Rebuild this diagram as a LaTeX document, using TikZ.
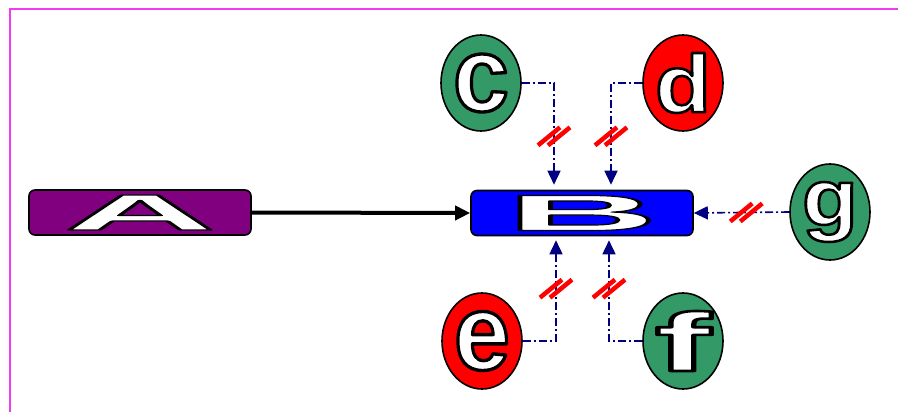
\documentclass[tikz,border=0pt]{standalone}
\usepackage{fontspec}
\setmainfont{Liberation Sans}
\usepackage{graphicx}
\usetikzlibrary{shapes.geometric,arrows.meta}
\definecolor{seagreen}{HTML}{339966}
\definecolor{navyc}{HTML}{000080}
\definecolor{purplec}{HTML}{800080}
\definecolor{framec}{RGB}{240,60,240}
\newcommand\outl[4]{\resizebox*{#1pt}{#2pt}{\color{white}\special{pdf:literal direct 2 Tr #3 w 0 G 1 j}\fontsize{80}{80}\selectfont\bfseries #4\special{pdf:literal direct 0 Tr}}}
\tikzset{
  box/.style={draw=black, line width=1.6pt, rounded corners=6pt, rectangle, minimum width=222pt, minimum height=45pt, inner sep=0pt},
  oval/.style={draw=black, line width=1.6pt, ellipse, minimum width=80pt, minimum height=96pt, inner sep=0pt},
  conn/.style={draw=navyc, line width=1.6pt, dash pattern=on 8pt off 3pt on 2pt off 3pt, -{Triangle[width=13pt,length=14pt]}},
  mainarrow/.style={draw=black, line width=4pt, -{Triangle[width=14pt,length=15pt]}},
  dslash/.pic={
    \draw[red, line width=4.5pt] (-16,9) -- (6,-9);
    \draw[red, line width=4.5pt] (-6,9) -- (16,-9);
  }
}
\begin{document}
\begin{tikzpicture}[x=1pt,y=-1pt]
\useasboundingbox (0,0) rectangle (898,412);
\draw[framec, line width=2pt] (10,414) -- (10,9) -- (900,9);

\node[box, fill=purplec] (A) at (140,212.5) {\outl{152}{35}{1.8}{A}};
\node[box, fill=blue] (B) at (582,213) {\outl{152}{35}{1.8}{B}};

\node[oval, fill=seagreen] (c) at (481,83) {\outl{56}{58}{2.5}{c}};
\node[oval, fill=red] (d) at (683,83) {\outl{56}{60}{2.5}{d}};
\node[oval, fill=red] (e) at (482,341) {\outl{56}{59}{2.5}{e}};
\node[oval, fill=seagreen] (f) at (683,341) {\outl{56}{60}{2.5}{f}};
\node[oval, fill=seagreen] (g) at (830,212) {\outl{56}{60}{2.5}{g}};

\draw[mainarrow] (A.east) -- (B.west);

\draw[conn, shorten >=5pt] (c.east) -| coordinate[pos=0.75] (sc) ([xshift=-28pt]B.north);
\draw[conn, shorten >=5pt] (d.west) -| coordinate[pos=0.75] (sd) ([xshift=29pt]B.north);
\draw[conn, shorten >=4pt] (e.east) -| coordinate[pos=0.75] (se) ([xshift=-26pt]B.south);
\draw[conn, shorten >=4pt] (f.west) -| coordinate[pos=0.75] (sf) ([xshift=27pt]B.south);
\draw[conn] (g.west) -- coordinate[pos=0.45] (sg) (B.east);

\pic at (sc) {dslash};
\pic at (sd) {dslash};
\pic at (se) {dslash};
\pic at (sf) {dslash};
\pic at (sg) {dslash};
\end{tikzpicture}
\end{document}
